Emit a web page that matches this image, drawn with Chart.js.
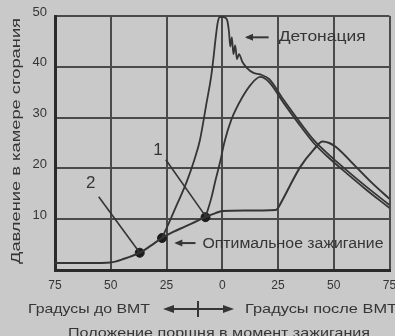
<!DOCTYPE html>
<html>
<head>
<meta charset="utf-8">
<script src="https://cdn.jsdelivr.net/npm/chart.js@4.4.0/dist/chart.umd.min.js"></script>
<style>
  html, body { margin: 0; padding: 0; background: #c9c9c9; }
  #chart { display: block; filter: blur(0.5px); }
</style>
</head>
<body>
<canvas id="chart" width="395" height="336"></canvas>
<script>
// угол поворота коленвала (градусы) и давление
const xTicks = [-75, -50, -25, 0, 25, 50, 75];
const yTicks = [0, 10, 20, 30, 40, 50];

// сжатие + позднее зажигание
const lateDeg = [-75, -60, -50, -44, -37, -32, -27, -22, -17, -12, -7.5, -3, 0, 10, 24, 27, 30, 35, 41, 45, 48, 51, 60, 67, 75];
const lateVal = [1.4, 1.4, 1.5, 2.2, 3.4, 4.8, 6.3, 7.5, 8.5, 9.5, 10.4, 11.2, 11.6, 11.7, 11.8, 13.8, 16.3, 20.3, 23.7, 25.3, 25.0, 24.2, 20.3, 17.2, 14.0];

// оптимальное зажигание
const optDeg = [-7.5, -5, -3, -1, 1, 4, 9, 13, 17, 21, 27.5, 36, 41, 48, 54, 64, 75];
const optVal = [10.4, 14, 17.7, 21.2, 25.2, 29.5, 34, 36.6, 38, 37, 32.9, 27.8, 25, 22, 19.7, 16, 12.2];

// раннее зажигание - детонация
const detDeg = [-27, -24, -20, -16, -12.5, -10, -7, -5, -4, -3, -2, -1, 0.5, 2, 3, 3.6, 4.3, 5, 5.8, 6.6, 7.5, 9, 11, 14, 17, 21, 27.5, 36, 41, 48, 54, 64, 75];
const detVal = [6.3, 9.2, 13.2, 17.3, 21.7, 25.6, 33, 38, 41.5, 45.5, 48.8, 49.8, 49.8, 49.4, 47, 44, 45.8, 42.5, 44.2, 41.5, 42.5, 41, 39.8, 38.8, 38.5, 37.6, 33.5, 28.4, 25.6, 22.6, 20.3, 16.6, 12.8];

// моменты зажигания
const ignDeg = [-37, -27, -7.5];
const ignVal = [3.4, 6.3, 10.4];

// выноски "1" и "2"
const leader1Deg = [-25.3, -7.5];
const leader1Val = [21.7, 10.6];
const leader2Deg = [-55.4, -37];
const leader2Val = [14.4, 3.4];

const ink = '#353535';
const font = '"Liberation Sans", Arial, sans-serif';

function pts(xs, ys) {
    return xs.map((x, i) => ({ x: x, y: ys[i] }));
}

function curve(xs, ys, w) {
    return {
        data: pts(xs, ys),
        borderColor: ink,
        borderWidth: w,
        pointRadius: 0,
        cubicInterpolationMode: 'monotone',
        fill: false
    };
}

// текст, растянутый на заданную ширину
function fitText(ctx, text, x, y, width, size) {
    ctx.font = size + 'px ' + font;
    let w = ctx.measureText(text).width;
    ctx.save();
    ctx.translate(x, y);
    ctx.scale(width / w, 1);
    ctx.textAlign = 'left';
    ctx.textBaseline = 'middle';
    ctx.fillStyle = ink;
    ctx.fillText(text, 0, 0);
    ctx.restore();
}

function arrowHead(ctx, x, y, dir, len, half) {
    ctx.beginPath();
    ctx.moveTo(x, y);
    ctx.lineTo(x - dir * len, y - half);
    ctx.lineTo(x - dir * len, y + half);
    ctx.closePath();
    ctx.fill();
}

const textPlugin = {
    id: 'texts',
    afterDraw(chart) {
        const ctx = chart.ctx;
        const xs = chart.scales.x;
        const ys = chart.scales.y;
        const px = v => xs.getPixelForValue(v);
        const py = v => ys.getPixelForValue(v);
        ctx.save();
        ctx.fillStyle = ink;
        ctx.strokeStyle = ink;

        // цифры у выносок
        ctx.font = '17px ' + font;
        ctx.textAlign = 'center';
        ctx.textBaseline = 'middle';
        ctx.fillText('1', px(-28.8), py(23.6));
        ctx.fillText('2', px(-59), py(17.1));

        // Детонация
        ctx.lineWidth = 2;
        ctx.beginPath();
        ctx.moveTo(px(11), py(45.8));
        ctx.lineTo(px(20.8), py(45.8));
        ctx.stroke();
        arrowHead(ctx, px(10.2), py(45.8), -1, 8, 3.5);
        fitText(ctx, 'Детонация', px(25.3), py(45.8), px(64.3) - px(25.3), 14);

        // Оптимальное зажигание
        ctx.beginPath();
        ctx.moveTo(px(-20.5), py(5.3));
        ctx.lineTo(px(-12), py(5.3));
        ctx.stroke();
        arrowHead(ctx, px(-21.5), py(5.3), -1, 8, 3.5);
        fitText(ctx, 'Оптимальное зажигание', px(-8.9), py(5.0), px(72.3) - px(-8.9), 14);

        // подпись оси Y
        ctx.save();
        ctx.translate(16, (chart.chartArea.top + chart.chartArea.bottom) / 2 - 2);
        ctx.rotate(-Math.PI / 2);
        const yTitle = 'Давление в камере сгорания';
        ctx.font = '13px ' + font;
        let w = ctx.measureText(yTitle).width;
        ctx.scale(246 / w, 1);
        ctx.textAlign = 'center';
        ctx.textBaseline = 'middle';
        ctx.fillText(yTitle, 0, 0);
        ctx.restore();

        // подписи оси X
        const row1 = chart.chartArea.bottom + 39;
        fitText(ctx, 'Градусы до ВМТ', 28, row1, 122, 13);
        fitText(ctx, 'Градусы после ВМТ', 245, row1, 152, 13);
        ctx.lineWidth = 2;
        ctx.beginPath();
        ctx.moveTo(168, row1);
        ctx.lineTo(228, row1);
        ctx.moveTo(198, row1 - 8);
        ctx.lineTo(198, row1 + 8);
        ctx.stroke();
        arrowHead(ctx, 163, row1, -1, 11, 4);
        arrowHead(ctx, 234, row1, 1, 11, 4);
        fitText(ctx, 'Положение поршня в момент зажигания', 68, row1 + 24, 302, 13);
        ctx.restore();
    }
};

const chart = new Chart(document.getElementById('chart').getContext('2d'), {
    type: 'line',
    data: {
        datasets: [
            curve(lateDeg, lateVal, 2),
            curve(optDeg, optVal, 1.8),
            curve(detDeg, detVal, 1.8),
            {
                data: pts(leader1Deg, leader1Val),
                borderColor: ink, borderWidth: 1.6, pointRadius: 0, tension: 0
            },
            {
                data: pts(leader2Deg, leader2Val),
                borderColor: ink, borderWidth: 1.6, pointRadius: 0, tension: 0
            },
            {
                data: pts(ignDeg, ignVal),
                showLine: false,
                pointRadius: 4.5,
                pointBackgroundColor: '#1c1c1c',
                pointBorderColor: '#1c1c1c'
            }
        ]
    },
    options: {
        responsive: false,
        animation: false,
        devicePixelRatio: 1,
        layout: { padding: { top: 16, right: 1, left: 0, bottom: 0 } },
        plugins: { legend: { display: false }, tooltip: { enabled: false } },
        scales: {
            x: {
                type: 'linear',
                min: xTicks[0],
                max: xTicks[xTicks.length - 1],
                afterBuildTicks: s => { s.ticks = xTicks.map(v => ({ value: v })); },
                afterFit: s => { s.height = 66; s.paddingLeft = 0; s.paddingRight = 0; },
                grid: { color: '#4a4a4a', lineWidth: 2, drawTicks: false },
                border: { display: true, color: '#2a2a2a', width: 3 },
                ticks: {
                    color: ink,
                    font: { family: font, size: 12 },
                    padding: 8,
                    callback: v => Math.abs(v)
                }
            },
            y: {
                min: yTicks[0],
                max: yTicks[yTicks.length - 1],
                afterBuildTicks: s => { s.ticks = yTicks.map(v => ({ value: v })); },
                afterFit: s => { s.width = 55; s.paddingTop = 0; s.paddingBottom = 0; },
                grid: { color: '#4a4a4a', lineWidth: 2, drawTicks: false },
                border: { display: true, color: '#2a2a2a', width: 3 },
                ticks: {
                    color: ink,
                    font: { family: font, size: 13 },
                    padding: 8,
                    labelOffset: -4,
                    callback: v => v === 0 ? '' : v
                }
            }
        }
    },
    plugins: [textPlugin]
});
</script>
</body>
</html>
